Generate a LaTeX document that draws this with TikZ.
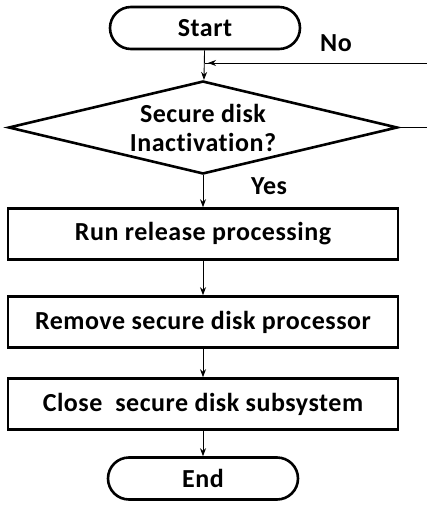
\documentclass[tikz,border=0pt]{standalone}
\usepackage{fontspec}
\setmainfont{Carlito}[Ligatures=NoCommon,LetterSpace=2]
\usetikzlibrary{shapes.geometric,arrows.meta}
\begin{document}
\begin{tikzpicture}[x=1pt,y=-1pt,
  every node/.style={font=\bfseries\fontsize{26}{29}\selectfont},
  term/.style={draw,line width=2.6pt,rectangle,rounded corners=21pt,minimum width=190pt,minimum height=42pt,inner sep=0pt},
  proc/.style={draw,line width=2.6pt,rectangle,minimum width=390pt,minimum height=51pt,inner sep=0pt},
  decide/.style={draw,line width=2.6pt,diamond,aspect=4.18,minimum width=389pt,minimum height=93pt,inner sep=0pt,align=center},
  flow/.style={line width=0.9pt,-{Stealth[length=8pt,width=6pt]}},
  link/.style={line width=0.9pt},
  lbl/.style={inner sep=0pt}]
\useasboundingbox[fill=white] (0,0) rectangle (427,505);
\node[term] (start) at (205,28) {Start};
\node[decide] (q) at (203,127.5) {Secure disk\\Inactivation?};
\node[proc] (p1) at (203,234) {Run release processing};
\node[proc] (p2) at (203,322) {Remove secure disk processor};
\node[proc] (p3) at (203,404) {Close\ \ secure disk subsystem};
\node[term] (end) at (203,478.5) {End};
\node[lbl] (no) at (336,43) {No};
\node[lbl] (yes) at (269,186) {Yes};
\coordinate (loopA) at (432,127.5);
\coordinate (loopB) at (432,63);
\coordinate (join) at (205,63);
\draw[flow] (start) -- (q);
\draw[link] (q.east) -- (loopA) -- (loopB) -- (join);
\draw[flow] (loopB) -- ([xshift=3pt]join);
\draw[flow] (q) -- (p1);
\draw[flow] (p1) -- (p2);
\draw[flow] (p2) -- (p3);
\draw[flow] (p3) -- (end);
\end{tikzpicture}
\end{document}
